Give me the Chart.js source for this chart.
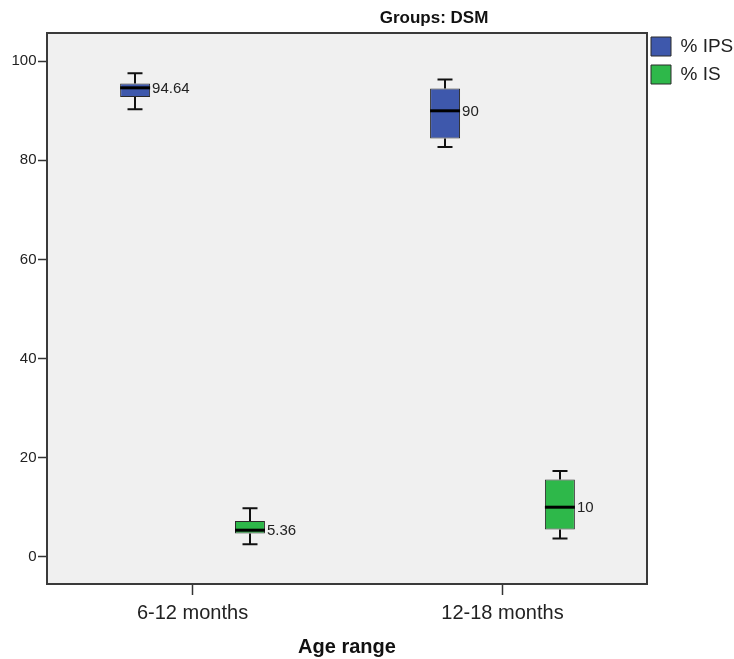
<!DOCTYPE html>
<html>
<head>
<meta charset="utf-8">
<script src="https://cdn.jsdelivr.net/npm/chart.js@4.4.1/dist/chart.umd.min.js"></script>
<style>
  html, body { margin: 0; padding: 0; background: #ffffff; }
  #wrap { width: 734px; height: 659px; }
</style>
</head>
<body>
<div id="wrap"><canvas id="chart" width="734" height="659"></canvas></div>
<script>
// Age groups on the horizontal axis
const categories = ['6-12 months', '12-18 months'];
const seriesNames = ['% IPS', '% IS'];

// Five-number summaries per age group
const ipsMin    = [90.3, 82.7];
const ipsQ1     = [92.8, 84.4];
const ipsMedian = [94.64, 90];
const ipsQ3     = [95.5, 94.5];
const ipsMax    = [97.6, 96.3];

const isMin    = [2.5, 3.7];
const isQ1     = [4.7, 5.5];
const isMedian = [5.36, 10];
const isQ3     = [7.2, 15.6];
const isMax    = [9.8, 17.3];

const yTicks = [0, 20, 40, 60, 80, 100];

const FONT = "'Liberation Sans', Arial, sans-serif";

const summaries = [
  { min: ipsMin, q1: ipsQ1, med: ipsMedian, q3: ipsQ3, max: ipsMax },
  { min: isMin,  q1: isQ1,  med: isMedian,  q3: isQ3,  max: isMax }
];

function boxData(s) {
  return categories.map((c, i) => ({ x: i, y: [s.q1[i], s.q3[i]] }));
}

// Whiskers, medians, median labels, frame and heading
const boxPlot = {
  id: 'boxPlot',
  beforeDraw(chart) {
    const { ctx, chartArea: a } = chart;
    ctx.save();
    ctx.fillStyle = '#f0f0f0';
    ctx.fillRect(a.left, a.top, a.right - a.left, a.bottom - a.top);
    ctx.restore();
  },
  beforeDatasetsDraw(chart) {
    const { ctx } = chart;
    const y = chart.scales.y;
    ctx.save();
    ctx.strokeStyle = '#111';
    ctx.lineWidth = 2;
    summaries.forEach((s, di) => {
      chart.getDatasetMeta(di).data.forEach((bar, i) => {
        const cx = Math.round(bar.x);
        const cap = bar.width / 4;
        const pMin = y.getPixelForValue(s.min[i]);
        const pMax = y.getPixelForValue(s.max[i]);
        const pQ1 = y.getPixelForValue(s.q1[i]);
        const pQ3 = y.getPixelForValue(s.q3[i]);
        ctx.beginPath();
        ctx.moveTo(cx, pQ3); ctx.lineTo(cx, pMax);
        ctx.moveTo(cx - cap, pMax); ctx.lineTo(cx + cap, pMax);
        ctx.moveTo(cx, pQ1); ctx.lineTo(cx, pMin);
        ctx.moveTo(cx - cap, pMin); ctx.lineTo(cx + cap, pMin);
        ctx.stroke();
      });
    });
    ctx.restore();
  },
  afterDatasetsDraw(chart) {
    const { ctx } = chart;
    const y = chart.scales.y;
    ctx.save();
    summaries.forEach((s, di) => {
      chart.getDatasetMeta(di).data.forEach((bar, i) => {
        const half = bar.width / 2;
        const pMed = y.getPixelForValue(s.med[i]);
        ctx.strokeStyle = '#000';
        ctx.lineWidth = 3;
        ctx.beginPath();
        ctx.moveTo(bar.x - half, pMed);
        ctx.lineTo(bar.x + half, pMed);
        ctx.stroke();
        ctx.fillStyle = '#222';
        ctx.font = '15px ' + FONT;
        ctx.textAlign = 'left';
        ctx.textBaseline = 'middle';
        ctx.fillText(String(s.med[i]), bar.x + half + 2, pMed + 1);
      });
    });
    ctx.restore();
  },
  afterDraw(chart) {
    const { ctx, chartArea: a } = chart;
    ctx.save();
    ctx.strokeStyle = '#3a3a3a';
    ctx.lineWidth = 2;
    ctx.strokeRect(a.left, a.top, a.right - a.left, a.bottom - a.top);
    ctx.fillStyle = '#111';
    ctx.font = 'bold 17px ' + FONT;
    ctx.textAlign = 'center';
    ctx.textBaseline = 'alphabetic';
    ctx.fillText('Groups: DSM', a.left + (a.right - a.left) * 0.645, 23);
    ctx.restore();
  }
};

new Chart(document.getElementById('chart'), {
  type: 'bar',
  data: {
    datasets: [
      {
        label: seriesNames[0],
        data: boxData(summaries[0]),
        backgroundColor: '#3e58ac',
        borderColor: '#2a2a2a',
        borderWidth: 1,
        borderSkipped: false
      },
      {
        label: seriesNames[1],
        data: boxData(summaries[1]),
        backgroundColor: '#2eb84a',
        borderColor: '#2a2a2a',
        borderWidth: 1,
        borderSkipped: false
      }
    ]
  },
  options: {
    responsive: false,
    animation: false,
    categoryPercentage: 0.741,
    barPercentage: 0.261,
    layout: { padding: { top: 33, left: 0, right: 0, bottom: 0 } },
    plugins: {
      title: { display: false },
      tooltip: { enabled: false },
      legend: {
        position: 'right',
        align: 'start',
        maxWidth: 87,
        labels: {
          boxWidth: 20,
          boxHeight: 19,
          padding: 4,
          color: '#222',
          font: { family: FONT, size: 19, lineHeight: 24 / 19 },
          generateLabels(chart) {
            return Chart.defaults.plugins.legend.labels.generateLabels(chart)
              .map(item => Object.assign({}, item, { text: [item.text] }));
          }
        }
      }
    },
    scales: {
      x: {
        type: 'linear',
        min: -0.4696,
        max: 1.4663,
        offset: false,
        border: { display: false },
        grid: {
          offset: false,
          drawOnChartArea: false,
          drawTicks: true,
          tickLength: 11,
          tickColor: '#333',
          tickWidth: 1.5
        },
        afterBuildTicks(scale) {
          scale.ticks = categories.map((c, i) => ({ value: i }));
        },
        afterFit(scale) { scale.height = 75; },
        ticks: {
          padding: 6,
          color: '#222',
          font: { family: FONT, size: 20 },
          callback: (v) => categories[v]
        },
        title: {
          display: true,
          text: 'Age range',
          color: '#111',
          padding: { top: 0, bottom: 0 },
          font: { family: FONT, size: 20, weight: 'bold', lineHeight: 1.2 }
        }
      },
      y: {
        min: -5.5,
        max: 105.7,
        border: { display: false },
        grid: {
          drawOnChartArea: false,
          drawTicks: true,
          tickLength: 9,
          tickColor: '#333',
          tickWidth: 1.5
        },
        afterBuildTicks(scale) {
          scale.ticks = yTicks.map(v => ({ value: v }));
        },
        afterFit(scale) { scale.width = 47; },
        ticks: {
          padding: 1.5,
          color: '#222',
          font: { family: FONT, size: 15 }
        }
      }
    }
  },
  plugins: [boxPlot]
});
</script>
</body>
</html>
